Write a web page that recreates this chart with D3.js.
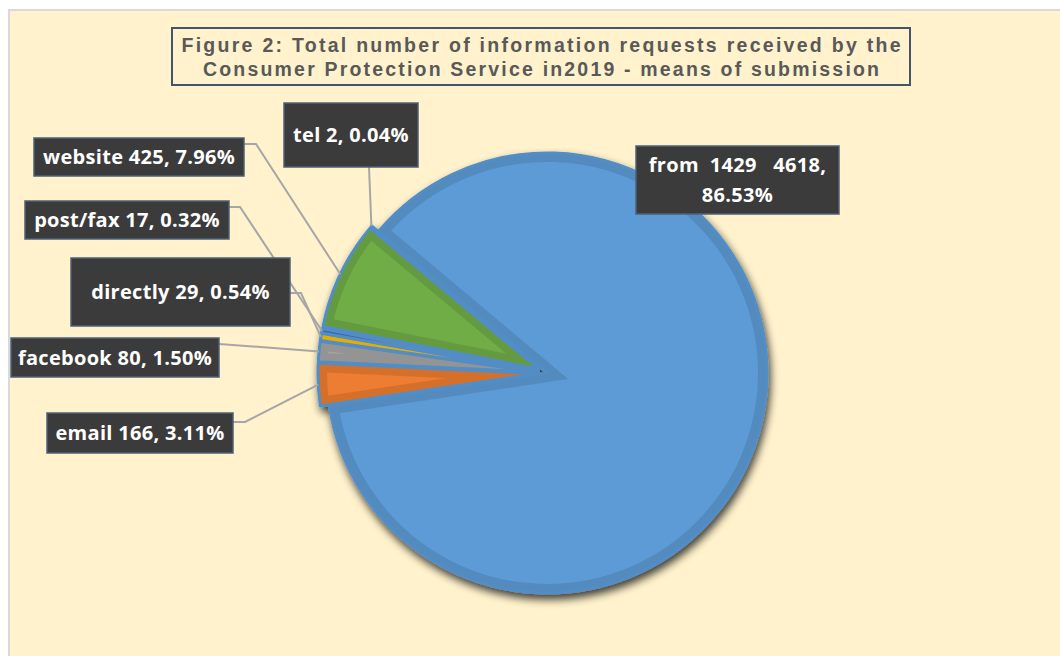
<!DOCTYPE html>
<html>
<head>
<meta charset="utf-8">
<script src="https://cdn.jsdelivr.net/npm/d3@7"></script>
<style>
  body { margin: 0; background: #fff; }
  svg { display: block; }
  .lbl text { font-family: "Open Sans", Lato, sans-serif; font-weight: 700; font-size: 20px; letter-spacing: 0.3px; fill: #fff; white-space: pre; }
  .title { font-family: "Liberation Sans", Arial, sans-serif; font-weight: 700; font-size: 19.5px; fill: #595959; }
</style>
</head>
<body>
<div id="chart"></div>
<script>
/* CONSTANTS AND GLOBALS */
const width = 1060,
  height = 656,
  cx = 547, cy = 373,
  radius = 220,
  explode = 9;

/* DATA */
const channels = ["from  1429  ", "email", "facebook", "directly", "post/fax", "website", "tel"];
const requests = [4618, 166, 80, 29, 17, 425, 2];
const sliceColors = ["#5B9BD5", "#ED7D31", "#A5A5A5", "#FFC000", "#4472C4", "#70AD47", "#255E91"];
const titleLines = [
  "Figure 2: Total number of information requests received by the",
  "Consumer Protection Service in2019 - means of submission"
];

// where each label box sits and where its leader line leaves the box
const labelLayout = {
  "from  1429  ": { x: 636, y: 146, w: 203, h: 68 },
  "email":    { x: 47,  y: 413, w: 186, h: 40, ax: 233, ay: 422, ex: 245 },
  "facebook": { x: 11,  y: 338, w: 208, h: 39, ax: 219, ay: 344 },
  "directly": { x: 71,  y: 258, w: 219, h: 68, ax: 290, ay: 293, ex: 301 },
  "post/fax": { x: 25,  y: 201, w: 204, h: 38, ax: 229, ay: 207, ex: 240 },
  "website":  { x: 34,  y: 138, w: 210, h: 38, ax: 244, ay: 144, ex: 256 },
  "tel":      { x: 284, y: 103, w: 134, h: 64, ax: 369, ay: 167 }
};
// title line widths as measured
const titleWidths = [719, 676];

const total = d3.sum(requests);
const pctFmt = d3.format(".2%");
const color = d3.scaleOrdinal().domain(channels).range(sliceColors);

const data = channels.map((c, i) => ({ name: c, value: requests[i] }));

const pie = d3.pie()
  .sort(null)
  .value(d => d.value)
  .startAngle(-50 * Math.PI / 180)
  .endAngle(310 * Math.PI / 180);

const arc = d3.arc().innerRadius(0).outerRadius(radius);

const arcs = pie(data);

const svg = d3.select("#chart")
  .append("svg")
  .attr("width", width)
  .attr("height", height);

const defs = svg.append("defs");
const shadow = defs.append("filter")
  .attr("id", "shadow")
  .attr("x", "-10%").attr("y", "-10%")
  .attr("width", "130%").attr("height", "130%");
shadow.append("feDropShadow")
  .attr("dx", 2).attr("dy", 5)
  .attr("stdDeviation", 4)
  .attr("flood-color", "#000")
  .attr("flood-opacity", 0.75);

// chart area background
svg.append("rect")
  .attr("x", 9).attr("y", 10)
  .attr("width", width).attr("height", height)
  .attr("fill", "#FFF2CC")
  .attr("stroke", "#D9D9D9")
  .attr("stroke-width", 2);

// title
svg.append("rect")
  .attr("x", 172).attr("y", 28)
  .attr("width", 738).attr("height", 57)
  .attr("fill", "none")
  .attr("stroke", "#44546A")
  .attr("stroke-width", 2);

svg.selectAll("text.title")
  .data(titleLines)
  .join("text")
  .attr("class", "title")
  .attr("x", 541)
  .attr("y", (d, i) => 52 + i * 24)
  .attr("text-anchor", "middle")
  .attr("textLength", (d, i) => titleWidths[i])
  .attr("lengthAdjust", "spacing")
  .text(d => d);

/* PIE */
function offsetOf(d) {
  if (d.index === 0) return [0, 0];
  const mid = (d.startAngle + d.endAngle) / 2;
  return [explode * Math.sin(mid), -explode * Math.cos(mid)];
}

const pieG = svg.append("g")
  .attr("transform", `translate(${cx},${cy})`)
  .attr("filter", "url(#shadow)");

const slice = pieG.selectAll("g.slice")
  .data(arcs)
  .join("g")
  .attr("class", "slice")
  .attr("transform", d => `translate(${offsetOf(d)})`);

// each slice clips its own inner band
arcs.forEach((d, i) => {
  defs.append("clipPath")
    .attr("id", "clip" + i)
    .append("path")
    .attr("d", arc(d));
});

slice.append("path")
  .attr("d", arc)
  .attr("fill", d => color(d.data.name));

// bevel-ish darker band along the inside of every edge
slice.append("path")
  .attr("d", arc)
  .attr("fill", "none")
  .attr("stroke", d => d3.color(color(d.data.name)).darker(0.3))
  .attr("stroke-width", 18)
  .attr("stroke-linejoin", "miter")
  .attr("stroke-miterlimit", 20)
  .attr("clip-path", (d, i) => `url(#clip${i})`);

slice.append("path")
  .attr("d", arc)
  .attr("fill", "none")
  .attr("stroke", "#528DC6")
  .attr("stroke-width", 3)
  .attr("stroke-linejoin", "round");

/* LABELS */
function edgePoint(d) {
  const mid = (d.startAngle + d.endAngle) / 2;
  const o = offsetOf(d);
  return [cx + o[0] + radius * Math.sin(mid), cy + o[1] - radius * Math.cos(mid)];
}

const leaders = svg.append("g");
arcs.forEach(d => {
  const L = labelLayout[d.data.name];
  if (L.ax === undefined) return;
  const pts = [[L.ax, L.ay]];
  if (L.ex !== undefined) pts.push([L.ex, L.ay]);
  pts.push(edgePoint(d));
  leaders.append("path")
    .attr("d", d3.line()(pts))
    .attr("fill", "none")
    .attr("stroke", "#A6A6A6")
    .attr("stroke-width", 2);
});

const lbl = svg.selectAll("g.lbl")
  .data(arcs)
  .join("g")
  .attr("class", "lbl")
  .attr("transform", d => {
    const L = labelLayout[d.data.name];
    return `translate(${L.x},${L.y})`;
  });

lbl.append("rect")
  .attr("width", d => labelLayout[d.data.name].w)
  .attr("height", d => labelLayout[d.data.name].h)
  .attr("fill", "#3B3B3B")
  .attr("stroke", "#4E6178")
  .attr("stroke-width", 1.5);

lbl.each(function(d) {
  const L = labelLayout[d.data.name];
  const pct = pctFmt(d.data.value / total);
  const g = d3.select(this);
  if (d.index === 0) {
    const lines = [d.data.name + " " + d.data.value + ",", pct];
    g.selectAll("text")
      .data(lines)
      .join("text")
      .attr("x", L.w / 2)
      .attr("y", (t, i) => L.h / 2 - 8 + i * 30)
      .attr("text-anchor", "middle")
      .text(t => t);
  } else {
    g.append("text")
      .attr("x", L.w / 2)
      .attr("y", L.h / 2 + 7)
      .attr("text-anchor", "middle")
      .text(d.data.name + " " + d.data.value + ", " + pct);
  }
});
</script>
</body>
</html>
